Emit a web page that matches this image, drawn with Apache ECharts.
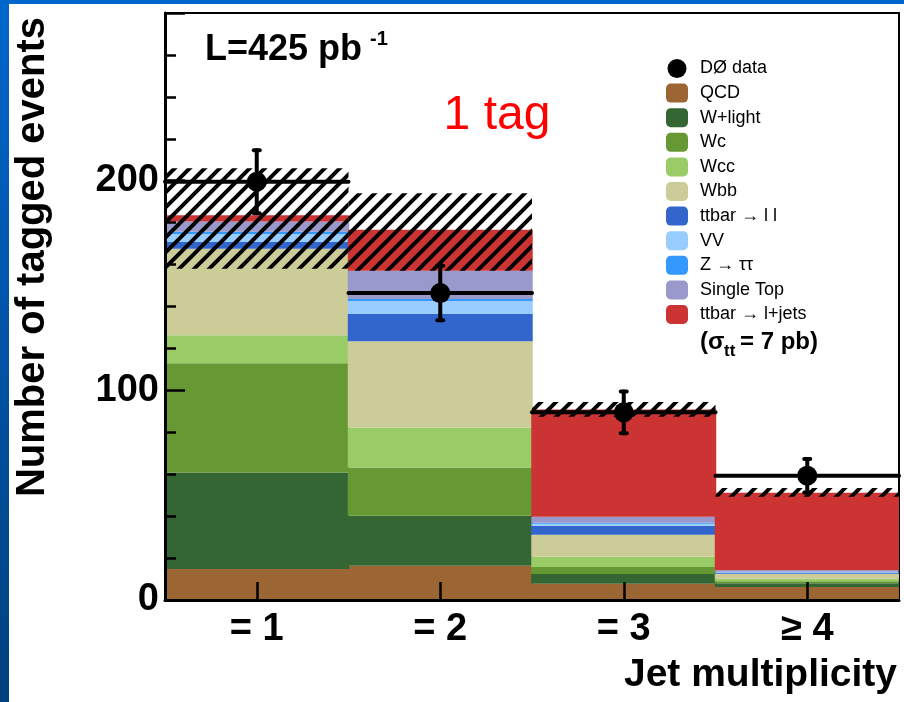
<!DOCTYPE html>
<html>
<head>
<meta charset="utf-8">
<script src="https://cdn.jsdelivr.net/npm/echarts@6/dist/echarts.min.js"></script>
<style>
  html, body { margin: 0; padding: 0; }
  body { width: 904px; height: 702px; background: linear-gradient(#0066cc, #00407f); position: relative; overflow: hidden; }
  #chart { position: absolute; left: 9px; top: 4px; width: 895px; height: 698px; background: #fff; }
</style>
</head>
<body>
<div id="chart"></div>
<script>
// bins on the x axis
const categories = ['= 1', '= 2', '= 3', '≥ 4']

// stacked predictions, bottom to top
const qcd    = [14.8, 16.3, 7.7, 6.2]
const wlight = [46.0, 23.9, 4.7, 1.8]
const wc     = [52.1, 23.0, 3.4, 1.0]
const wcc    = [13.4, 19.1, 4.8, 1.1]
const wbb    = [41.2, 41.1, 10.5, 2.4]
const ttll   = [3.3, 13.0, 4.3, 0.6]
const vv     = [3.8, 6.2, 1.0, 0.3]
const ztautau = [1.0, 1.0, 0.5, 0.2]
const singleTop = [4.9, 13.4, 2.8, 0.6]
const ttljets = [3.0, 19.6, 51.2, 37.0]

// hatched uncertainty band on the total
const bandLow  = [158, 157, 87.4, 49.2]
const bandHigh = [206, 194, 94.4, 53.4]

// data points and their errors
const dataY   = [199.5, 146.4, 89.5, 59.3]
const dataErr = [15, 13, 10, 8]

const stackDefs = [
  { name: 'QCD', data: qcd, color: '#9b6633' },
  { name: 'W+light', data: wlight, color: '#336633' },
  { name: 'Wc', data: wc, color: '#669933' },
  { name: 'Wcc', data: wcc, color: '#99cc66' },
  { name: 'Wbb', data: wbb, color: '#cccc99' },
  { name: 'ttbar → l l', data: ttll, color: '#3366cc' },
  { name: 'VV', data: vv, color: '#99ccff' },
  { name: 'Z → ττ', data: ztautau, color: '#3399ff' },
  { name: 'Single Top', data: singleTop, color: '#9999cc' },
  { name: 'ttbar → l+jets', data: ttljets, color: '#cc3333' }
]

const FONT = "'Liberation Sans', Arial, sans-serif"

// small tile with a "/" stroke for the hatch
const hatch = document.createElement('canvas')
hatch.width = 15
hatch.height = 15
const hc = hatch.getContext('2d')
hc.strokeStyle = '#000'
hc.lineWidth = 4
hc.beginPath()
hc.moveTo(-2, 17); hc.lineTo(17, -2)
hc.moveTo(-2, 2); hc.lineTo(2, -2)
hc.moveTo(13, 17); hc.lineTo(17, 13)
hc.stroke()

const chart = echarts.init(document.getElementById('chart'))

// slightly over 100% so neighbouring bins meet without a seam
const barSeries = stackDefs.map(d => ({
  name: d.name,
  type: 'bar',
  stack: 'mc',
  data: d.data,
  barWidth: '100.8%',
  barCategoryGap: '0%',
  itemStyle: { color: d.color },
  silent: true
}))

const option = {
  animation: false,
  grid: { left: 156, top: 9, right: 5, bottom: 102, show: true, borderColor: '#000', borderWidth: 2, backgroundColor: 'transparent' },
  legend: {
    orient: 'vertical',
    left: 652,
    top: 50,
    itemWidth: 22,
    itemHeight: 19,
    itemGap: 5.6,
    selectedMode: false,
    textStyle: { fontFamily: FONT, fontSize: 18, color: '#000', lineHeight: 19, padding: [0, 0, 0, 7] },
    data: [{ name: 'DØ data', icon: 'circle' }].concat(stackDefs.map(d => ({ name: d.name, icon: 'roundRect' })))
  },
  xAxis: {
    type: 'category',
    data: categories,
    z: 10,
    axisLine: { show: true, lineStyle: { color: '#000', width: 3 } },
    axisTick: { show: true, inside: true, alignWithLabel: true, length: 18, lineStyle: { color: '#000', width: 2.5 } },
    axisLabel: { fontFamily: FONT, fontSize: 38, fontWeight: 'bold', color: '#000', margin: 11 }
  },
  yAxis: [
    {
      type: 'value', min: 0, max: 280, interval: 20, position: 'left', z: 10,
      axisLine: { show: true, lineStyle: { color: '#000', width: 3 } },
      axisTick: { show: true, inside: true, length: 11, lineStyle: { color: '#000', width: 2.5 } },
      axisLabel: { show: false },
      splitLine: { show: false }
    },
    {
      type: 'value', min: 0, max: 280, interval: 100, position: 'left', z: 10,
      axisLine: { show: false },
      axisTick: { show: true, inside: true, length: 20, lineStyle: { color: '#000', width: 2.5 } },
      axisLabel: {
        fontFamily: FONT, fontSize: 38, fontWeight: 'bold', color: '#000', margin: 6,
        formatter: v => (v % 100 === 0 ? String(v) : '')
      },
      splitLine: { show: false }
    }
  ],
  series: barSeries.concat([
    {
      name: 'band',
      type: 'custom',
      silent: true,
      z: 5,
      data: categories.map((c, i) => [i, bandLow[i], bandHigh[i]]),
      renderItem: (params, api) => {
        const i = api.value(0)
        const lo = api.coord([i, api.value(1)])
        const hi = api.coord([i, api.value(2)])
        const w = api.size([1, 0])[0]
        return {
          type: 'rect',
          shape: { x: lo[0] - w / 2, y: hi[1], width: w, height: lo[1] - hi[1] },
          style: { fill: { image: hatch, repeat: 'repeat' } }
        }
      }
    },
    {
      name: 'DØ data',
      type: 'custom',
      silent: true,
      z: 6,
      itemStyle: { color: '#000' },
      data: categories.map((c, i) => [i, dataY[i], dataErr[i]]),
      renderItem: (params, api) => {
        const i = api.value(0)
        const y = api.value(1)
        const e = api.value(2)
        const c = api.coord([i, y])
        const top = api.coord([i, y + e])
        const bot = api.coord([i, y - e])
        const w = api.size([1, 0])[0]
        const ln = { stroke: '#000', lineWidth: 4, lineCap: 'round' }
        return {
          type: 'group',
          children: [
            { type: 'line', shape: { x1: c[0] - w / 2, y1: c[1], x2: c[0] + w / 2, y2: c[1] }, style: ln },
            { type: 'line', shape: { x1: c[0], y1: top[1], x2: c[0], y2: bot[1] }, style: ln },
            { type: 'line', shape: { x1: c[0] - 3, y1: top[1], x2: c[0] + 3, y2: top[1] }, style: ln },
            { type: 'line', shape: { x1: c[0] - 3, y1: bot[1], x2: c[0] + 3, y2: bot[1] }, style: ln },
            { type: 'circle', shape: { cx: c[0], cy: c[1], r: 10 }, style: { fill: '#000' } }
          ]
        }
      }
    }
  ]),
  graphic: [
    { type: 'text', left: 196, top: 28, style: { text: 'L=425 pb', fontFamily: FONT, fontSize: 36, fontWeight: 'bold', fill: '#000' } },
    { type: 'text', left: 361, top: 25, style: { text: '-1', fontFamily: FONT, fontSize: 20, fontWeight: 'bold', fill: '#000' } },
    { type: 'text', x: 488, y: 112, style: { text: '1 tag', fontFamily: FONT, fontSize: 48, fill: '#ff0000', align: 'center', verticalAlign: 'middle' } },
    { type: 'text', x: 691, y: 338, style: { text: '(σ', fontFamily: FONT, fontSize: 24, fontWeight: 'bold', fill: '#000', verticalAlign: 'middle' } },
    { type: 'text', x: 715, y: 347, style: { text: 'tt', fontFamily: FONT, fontSize: 17, fontWeight: 'bold', fill: '#000', verticalAlign: 'middle' } },
    { type: 'text', x: 731, y: 338, style: { text: '= 7 pb)', fontFamily: FONT, fontSize: 24, fontWeight: 'bold', fill: '#000', verticalAlign: 'middle' } },
    { type: 'text', x: 24, y: 253, rotation: Math.PI / 2, style: { text: 'Number of tagged events', fontFamily: FONT, fontSize: 40, fontWeight: 'bold', fill: '#000', align: 'center', verticalAlign: 'middle' } },
    { type: 'text', x: 888, y: 671, style: { text: 'Jet multiplicity', fontFamily: FONT, fontSize: 39, fontWeight: 'bold', fill: '#000', align: 'right', verticalAlign: 'middle' } }
  ]
}

chart.setOption(option)
</script>
</body>
</html>
